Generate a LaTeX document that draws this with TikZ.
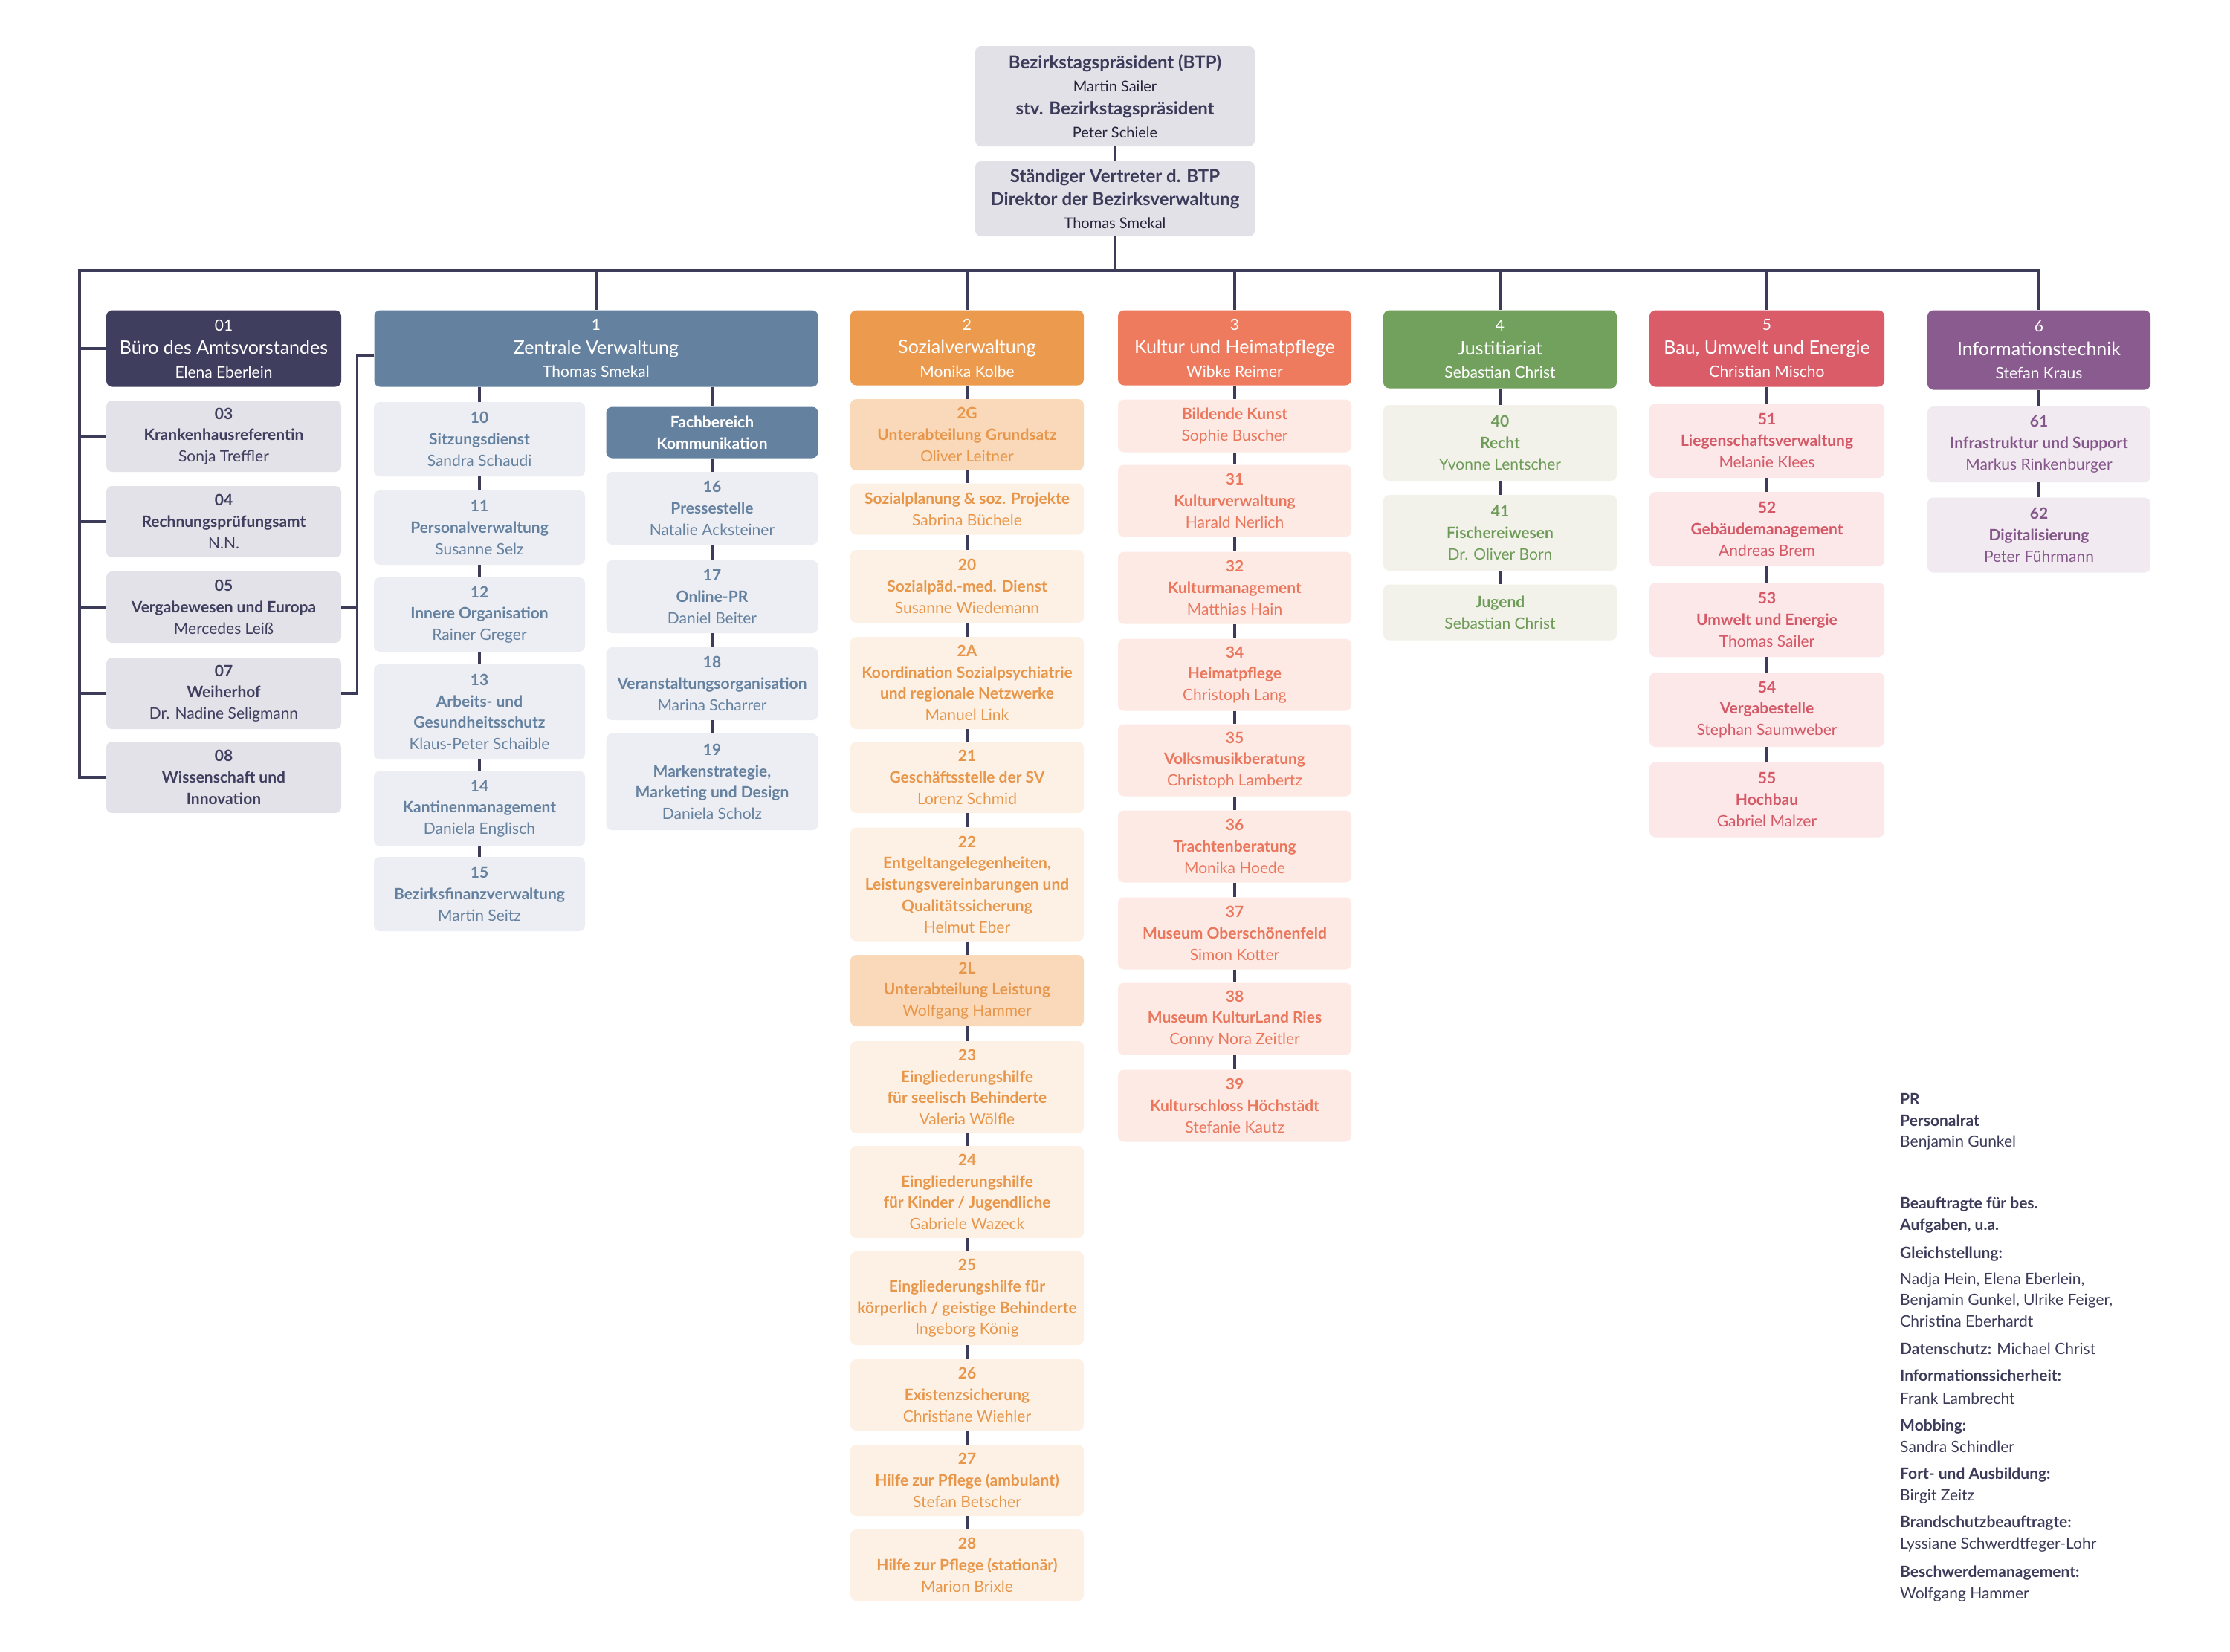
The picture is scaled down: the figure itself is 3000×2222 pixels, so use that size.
\documentclass[tikz,border=0pt]{standalone}
\usepackage{fontspec}
\setmainfont{Lato}
\usepackage{xcolor}
\usetikzlibrary{positioning,calc}

\definecolor{navy}{HTML}{3C3B5A}
\definecolor{ink}{HTML}{25243A}
\definecolor{topFill}{HTML}{E3E1E8}
\definecolor{amtDark}{HTML}{3F3E5E}
\definecolor{amtLight}{HTML}{E4E2E9}
\definecolor{zvDark}{HTML}{6581A0}
\definecolor{zvLight}{HTML}{ECEEF3}
\definecolor{svDark}{HTML}{EB9A4E}
\definecolor{svMid}{HTML}{F9D9B9}
\definecolor{svLight}{HTML}{FDF1E5}
\definecolor{svText}{HTML}{E8964A}
\definecolor{khDark}{HTML}{EF7B5F}
\definecolor{khLight}{HTML}{FDEAE5}
\definecolor{khText}{HTML}{EA765C}
\definecolor{juDark}{HTML}{72A15D}
\definecolor{juLight}{HTML}{F2F2EA}
\definecolor{juText}{HTML}{6E9B58}
\definecolor{buDark}{HTML}{D95C68}
\definecolor{buLight}{HTML}{FCE7E9}
\definecolor{buText}{HTML}{D45866}
\definecolor{itDark}{HTML}{8A5B8E}
\definecolor{itLight}{HTML}{F2EAF1}
\definecolor{itText}{HTML}{84578A}

\newcommand{\unitfont}{\fontsize{21}{28.7}\selectfont}
\newcommand{\headfont}{\fontsize{25}{31.5}\selectfont}
\newcommand{\topfont}{\fontsize{24}{31}\selectfont}
\newcommand{\who}[1]{\textmd{#1}}
\newcommand{\hname}[1]{{\fontsize{21}{31.5}\selectfont #1}}
\newcommand{\tname}[1]{{\fontsize{20}{31}\selectfont\color{ink}#1}}

\tikzset{
	box/.style={rounded corners=8pt, align=center, inner sep=2pt, font=\unitfont\bfseries},
	link/.style={draw=navy, line width=3.5pt},
	topbox/.style={box, fill=topFill, text=navy, minimum width=376, font=\topfont},
	head/.style={box, fill=#1, text=white, font=\headfont},
	amt/.style={box, fill=amtLight, text=amtDark, minimum width=316, minimum height=96},
	zv/.style={box, fill=zvLight, text=zvDark, minimum width=284, minimum height=100},
	sv/.style={box, fill=svLight, text=svText, minimum width=314, minimum height=96},
	kh/.style={box, fill=khLight, text=khText, minimum width=314, minimum height=97},
	ju/.style={box, fill=juLight, text=juText, minimum width=314, minimum height=102},
	bu/.style={box, fill=buLight, text=buText, minimum width=316, minimum height=100},
	it/.style={box, fill=itLight, text=itText, minimum width=300, minimum height=102},
	note/.style={anchor=north west, align=left, inner sep=0pt, text=navy, font=\unitfont},
}

\begin{document}
\begin{tikzpicture}[x=1pt, y=-1pt]
	\useasboundingbox[fill=white] (0,0) rectangle (3000,2222);

	% Leitung
	\node[topbox, minimum height=135] (btp) at (1500,129.5) {\textbf{Bezirkstagspräsident (BTP)}\\\tname{Martin Sailer}\\\textbf{stv. Bezirkstagspräsident}\\\tname{Peter Schiele}};
	\node[topbox, minimum height=101] (dir) at (1500,267.5) {\textbf{Ständiger Vertreter d. BTP}\\\textbf{Direktor der Bezirksverwaltung}\\\tname{Thomas Smekal}};

	% 0x
	\node[head=amtDark, minimum width=316, minimum height=103] (n01) at (301,469) {\hname{01}\\Büro des Amtsvorstandes\\\hname{Elena Eberlein}};
	\node[amt] (n03) at (301,587) {03\\Krankenhausreferentin\\\who{Sonja Treffler}};
	\node[amt] (n04) at (301,702) {04\\Rechnungsprüfungsamt\\\who{N.N.}};
	\node[amt] (n05) at (301,817) {05\\Vergabewesen und Europa\\\who{Mercedes Leiß}};
	\node[amt] (n07) at (301,933) {07\\Weiherhof\\\who{Dr. Nadine Seligmann}};
	\node[amt] (n08) at (301,1046) {08\\Wissenschaft und\\Innovation};

	% 1
	\node[head=zvDark, minimum width=597, minimum height=103] (c1) at (802,469) {\hname{1}\\Zentrale Verwaltung\\\hname{Thomas Smekal}};
	\node[zv] (n10) at (645,591) {10\\Sitzungsdienst\\\who{Sandra Schaudi}};
	\node[zv] (n11) at (645,710) {11\\Personalverwaltung\\\who{Susanne Selz}};
	\node[zv] (n12) at (645,827) {12\\Innere Organisation\\\who{Rainer Greger}};
	\node[zv, minimum height=128] (n13) at (645,958) {13\\Arbeits- und\\Gesundheitsschutz\\\who{Klaus-Peter Schaible}};
	\node[zv, minimum height=101] (n14) at (645,1088) {14\\Kantinenmanagement\\\who{Daniela Englisch}};
	\node[zv] (n15) at (645,1203) {15\\Bezirksfinanzverwaltung\\\who{Martin Seitz}};
	\node[zv, fill=zvDark, text=white, minimum width=285, minimum height=69] (fk) at (958,582) {Fachbereich\\Kommunikation};
	\node[zv, minimum width=285, minimum height=98] (n16) at (958,684) {16\\Pressestelle\\\who{Natalie Acksteiner}};
	\node[zv, minimum width=285, minimum height=98] (n17) at (958,803) {17\\Online-PR\\\who{Daniel Beiter}};
	\node[zv, minimum width=285, minimum height=98] (n18) at (958,920) {18\\Veranstaltungsorganisation\\\who{Marina Scharrer}};
	\node[zv, minimum width=285, minimum height=130] (n19) at (958,1052) {19\\Markenstrategie,\\Marketing und Design\\\who{Daniela Scholz}};

	% 2
	\node[head=svDark, minimum width=314, minimum height=101] (c2) at (1301,468) {\hname{2}\\Sozialverwaltung\\\hname{Monika Kolbe}};
	\node[sv, fill=svMid] (n2G) at (1301,585) {2G\\Unterabteilung Grundsatz\\\who{Oliver Leitner}};
	\node[sv, minimum height=69] (nSP) at (1301,685) {Sozialplanung \& soz. Projekte\\\who{Sabrina Büchele}};
	\node[sv, minimum height=98] (n20) at (1301,789) {20\\Sozialpäd.-med. Dienst\\\who{Susanne Wiedemann}};
	\node[sv, minimum height=124] (n2A) at (1301,919) {2A\\Koordination Sozialpsychiatrie\\und regionale Netzwerke\\\who{Manuel Link}};
	\node[sv] (n21) at (1301,1046) {21\\Geschäftsstelle der SV\\\who{Lorenz Schmid}};
	\node[sv, minimum height=153] (n22) at (1301,1190) {22\\Entgeltangelegenheiten,\\Leistungsvereinbarungen und\\Qualitätssicherung\\\who{Helmut Eber}};
	\node[sv, fill=svMid] (n2L) at (1301,1333) {2L\\Unterabteilung Leistung\\\who{Wolfgang Hammer}};
	\node[sv, minimum height=124] (n23) at (1301,1463) {23\\Eingliederungshilfe\\für seelisch Behinderte\\\who{Valeria Wölfle}};
	\node[sv, minimum height=124] (n24) at (1301,1604) {24\\Eingliederungshilfe\\für Kinder / Jugendliche\\\who{Gabriele Wazeck}};
	\node[sv, minimum height=126] (n25) at (1301,1747) {25\\Eingliederungshilfe für\\körperlich / geistige Behinderte\\\who{Ingeborg König}};
	\node[sv] (n26) at (1301,1877) {26\\Existenzsicherung\\\who{Christiane Wiehler}};
	\node[sv] (n27) at (1301,1992) {27\\Hilfe zur Pflege (ambulant)\\\who{Stefan Betscher}};
	\node[sv] (n28) at (1301,2106) {28\\Hilfe zur Pflege (stationär)\\\who{Marion Brixle}};

	% 3
	\node[head=khDark, minimum width=314, minimum height=101] (c3) at (1661,468) {\hname{3}\\Kultur und Heimatpflege\\\hname{Wibke Reimer}};
	\node[kh, minimum height=71] (nBK) at (1661,573) {Bildende Kunst\\\who{Sophie Buscher}};
	\node[kh] (n31) at (1661,674) {31\\Kulturverwaltung\\\who{Harald Nerlich}};
	\node[kh] (n32) at (1661,791) {32\\Kulturmanagement\\\who{Matthias Hain}};
	\node[kh] (n34) at (1661,908) {34\\Heimatpflege\\\who{Christoph Lang}};
	\node[kh] (n35) at (1661,1023) {35\\Volksmusikberatung\\\who{Christoph Lambertz}};
	\node[kh] (n36) at (1661,1139) {36\\Trachtenberatung\\\who{Monika Hoede}};
	\node[kh] (n37) at (1661,1256) {37\\Museum Oberschönenfeld\\\who{Simon Kotter}};
	\node[kh] (n38) at (1661,1371) {38\\Museum KulturLand Ries\\\who{Conny Nora Zeitler}};
	\node[kh] (n39) at (1661,1488) {39\\Kulturschloss Höchstädt\\\who{Stefanie Kautz}};

	% 4
	\node[head=juDark, minimum width=314, minimum height=105] (c4) at (2018,470) {\hname{4}\\Justitiariat\\\hname{Sebastian Christ}};
	\node[ju] (n40) at (2018,596) {40\\Recht\\\who{Yvonne Lentscher}};
	\node[ju] (n41) at (2018,717) {41\\Fischereiwesen\\\who{Dr. Oliver Born}};
	\node[ju, minimum height=75] (nJu) at (2018,824) {Jugend\\\who{Sebastian Christ}};

	% 5
	\node[head=buDark, minimum width=316, minimum height=103] (c5) at (2377,469) {\hname{5}\\Bau, Umwelt und Energie\\\hname{Christian Mischo}};
	\node[bu] (n51) at (2377,593) {51\\Liegenschaftsverwaltung\\\who{Melanie Klees}};
	\node[bu] (n52) at (2377,712) {52\\Gebäudemanagement\\\who{Andreas Brem}};
	\node[bu] (n53) at (2377,834) {53\\Umwelt und Energie\\\who{Thomas Sailer}};
	\node[bu] (n54) at (2377,955) {54\\Vergabestelle\\\who{Stephan Saumweber}};
	\node[bu, minimum height=101] (n55) at (2377,1076) {55\\Hochbau\\\who{Gabriel Malzer}};

	% 6
	\node[head=itDark, minimum width=300, minimum height=107] (c6) at (2743,471) {\hname{6}\\Informationstechnik\\\hname{Stefan Kraus}};
	\node[it] (n61) at (2743,598) {61\\Infrastruktur und Support\\\who{Markus Rinkenburger}};
	\node[it, minimum height=101] (n62) at (2743,720) {62\\Digitalisierung\\\who{Peter Führmann}};

	% Linien
	\coordinate (busL) at (107,364);
	\coordinate (busR) at (2743,364);
	\draw[link] (btp) -- (dir);
	\draw[link] (dir) -- (dir |- busL);
	\draw[link] (n08.west) -| (busL) -- (busR) -- (c6);
	\foreach \c in {c1,c2,c3,c4,c5}
		\draw[link] (\c |- busL) -- (\c);
	\foreach \n in {n01,n03,n04,n05,n07}
		\draw[link] (busL |- \n) -- (\n);

	\coordinate (zj) at ($(c1.west)+(-23,9)$);
	\draw[link] ($(c1.west)+(0,9)$) -- (zj) |- (n07.east);
	\draw[link] (n05.east) -- (n05.east -| zj);

	\draw[link] (c1.south -| n10) -- (n10);
	\draw[link] (c1.south -| fk) -- (fk);
	\foreach \a/\b in {n10/n11,n11/n12,n12/n13,n13/n14,n14/n15,
		fk/n16,n16/n17,n17/n18,n18/n19,
		c2/n2G,n2G/nSP,nSP/n20,n20/n2A,n2A/n21,n21/n22,n22/n2L,n2L/n23,n23/n24,n24/n25,n25/n26,n26/n27,n27/n28,
		c3/nBK,nBK/n31,n31/n32,n32/n34,n34/n35,n35/n36,n36/n37,n37/n38,n38/n39,
		c4/n40,n40/n41,n41/nJu,
		c5/n51,n51/n52,n52/n53,n53/n54,n54/n55,
		c6/n61,n61/n62}
		\draw[link] (\a) -- (\b);

	% Personalrat und Beauftragte
	\node[note] (pr) at (2556,1471) {\textbf{PR}\\\textbf{Personalrat}\\Benjamin Gunkel};
	\node[note] (bfa) at (2556,1611) {\textbf{Beauftragte für bes.}\\\textbf{Aufgaben, u.a.}\\[9.6pt]
		\textbf{Gleichstellung:}\\[5.7pt]
		Nadja Hein, Elena Eberlein,\\Benjamin Gunkel, Ulrike Feiger,\\Christina Eberhardt\\[7.7pt]
		\textbf{Datenschutz:} Michael Christ\\[7.7pt]
		\textbf{Informationssicherheit:}\\[2pt]Frank Lambrecht\\[7.7pt]
		\textbf{Mobbing:}\\Sandra Schindler\\[7.7pt]
		\textbf{Fort- und Ausbildung:}\\Birgit Zeitz\\[7.7pt]
		\textbf{Brandschutzbeauftragte:}\\Lyssiane Schwerdtfeger-Lohr\\[9.6pt]
		\textbf{Beschwerdemanagement:}\\Wolfgang Hammer};
\end{tikzpicture}
\end{document}
